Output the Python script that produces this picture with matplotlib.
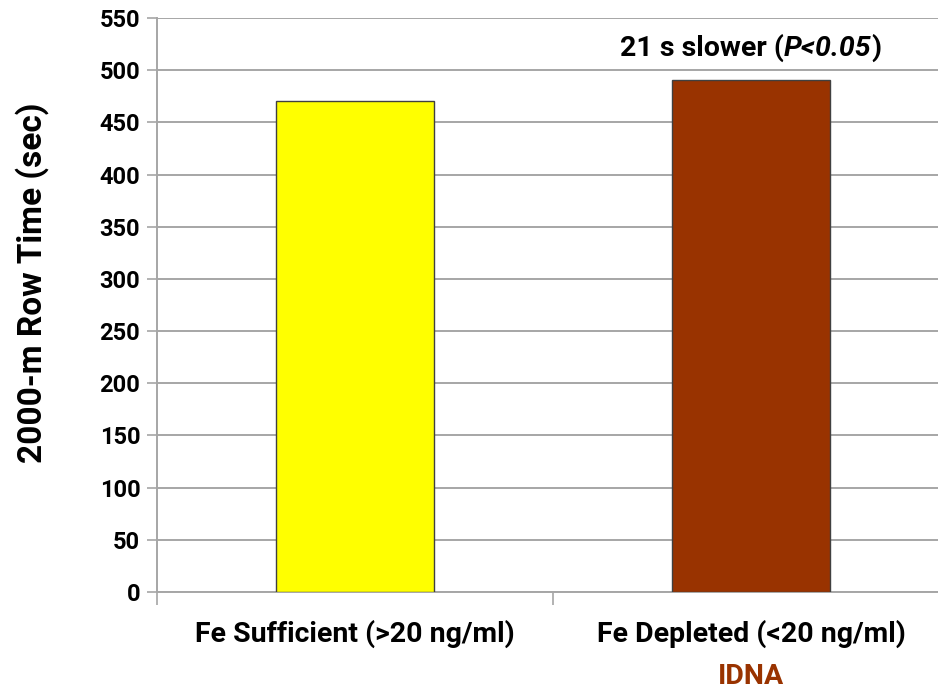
import matplotlib
matplotlib.use("Agg")
import matplotlib.pyplot as plt

plt.rcParams['font.family'] = ['Roboto', 'DejaVu Sans']

categories = ["Fe Sufficient (>20 ng/ml)", "Fe Depleted (<20 ng/ml)"]
row_times = [470, 491]
bar_colors = ["#FFFF00", "#993300"]
yticks = list(range(0, 551, 50))
note_parts = [("21 s slower (", "normal"), ("P<0.05", "italic"), (")", "normal")]

fig = plt.figure(figsize=(9.38, 6.89), dpi=100)
ax = fig.add_axes([157 / 938, 97 / 689, 792 / 938, 574 / 689])

x = list(range(len(categories)))
ax.bar(x, row_times, width=0.40, color=bar_colors, edgecolor="#404040",
       linewidth=1.0, zorder=3)

ax.set_xlim(-0.5, 1.5)
ax.set_ylim(0, 550)
ax.set_yticks(yticks)
ax.set_yticklabels([str(t) for t in yticks], fontsize=17, fontweight="bold")
ax.yaxis.grid(True, color="#A6A6A6", linewidth=1.4, zorder=0)
ax.set_axisbelow(True)

ax.set_xticks([-0.5, 0.5, 1.5])
ax.set_xticklabels([])
ax.tick_params(axis="x", length=9, width=1.2, color="#A6A6A6", direction="out")
ax.tick_params(axis="y", length=7, width=1.2, color="#A6A6A6", pad=5)

for side in ("top", "right"):
    ax.spines[side].set_visible(False)
for side in ("left", "bottom"):
    ax.spines[side].set_color("#A6A6A6")
    ax.spines[side].set_linewidth(1.4)

for xi, label in zip(x, categories):
    ax.text(xi, -0.073, label, transform=ax.get_xaxis_transform(),
            ha="center", va="center", fontsize=20.5, fontweight="bold")
ax.text(1, -0.148, "IDNA", transform=ax.get_xaxis_transform(),
        ha="center", va="center", fontsize=20.5, fontweight="bold",
        color="#993300")

# annotation above the second bar, with the p-value in italics
renderer = fig.canvas.get_renderer()
pieces = []
for txt, style in note_parts:
    t = ax.text(0, 0, txt, fontsize=20.5, fontweight="bold", style=style,
                va="baseline", ha="left")
    pieces.append(t)
widths = [p.get_window_extent(renderer).width for p in pieces]
total = sum(widths)
cx, cy = ax.transData.transform((1, row_times[1] + 23))
start = cx - total / 2
inv = ax.transData.inverted()
for p, w in zip(pieces, widths):
    p.set_position(inv.transform((start, cy)))
    start += w

# y-axis title
fig.text(32 / 938, 1 - 283 / 689, "2000-m Row Time (sec)", rotation=90,
         ha="center", va="center", fontsize=24, fontweight="bold")

fig.savefig("out.png", dpi=100)
